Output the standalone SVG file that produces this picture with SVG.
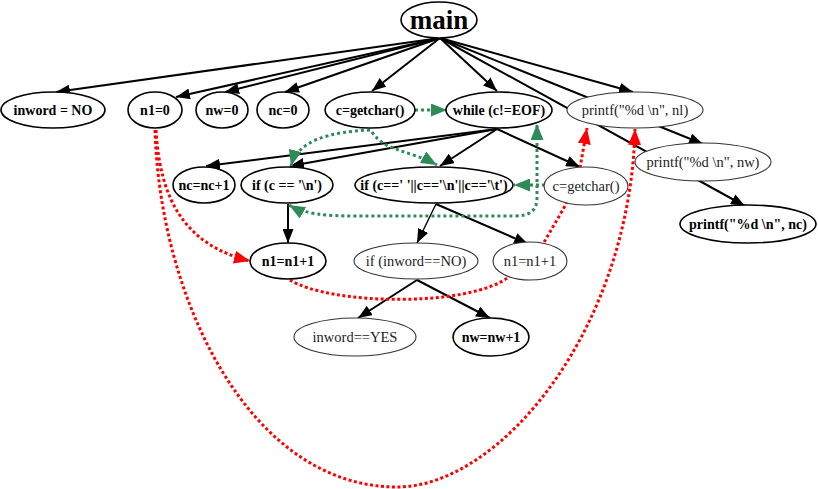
<svg xmlns="http://www.w3.org/2000/svg" width="818" height="489" viewBox="0 0 818 489">
<style>
.e{fill:none;stroke:#000;stroke-width:2}
.thin{fill:none;stroke:#000;stroke-width:1.4}
.red{fill:none;stroke:#f00;stroke-width:3;stroke-dasharray:3 2.5}
.grn{fill:none;stroke:#2e8b57;stroke-width:3;stroke-dasharray:3 3}
.nb ellipse{fill:#fff;stroke:#000;stroke-width:1.6}
.nr ellipse{fill:#fff;stroke:#333;stroke-width:1.1}
.nb text{font-family:"Liberation Serif",serif;font-size:14px;font-weight:bold;fill:#000;text-anchor:middle}
.nr text{font-family:"Liberation Serif",serif;font-size:14.5px;fill:#222;text-anchor:middle}
</style>
<defs>
<marker id="ab" markerUnits="userSpaceOnUse" viewBox="0 0 14 11" markerWidth="14" markerHeight="11" refX="14" refY="5.5" orient="auto"><path d="M0,0 L14,5.5 L0,11 z" fill="#000"/></marker>
<marker id="ar" markerUnits="userSpaceOnUse" viewBox="0 0 16 13" markerWidth="16" markerHeight="13" refX="16" refY="6.5" orient="auto"><path d="M0,0 L16,6.5 L0,13 z" fill="#f00"/></marker>
<marker id="ag" markerUnits="userSpaceOnUse" viewBox="0 0 16 13" markerWidth="16" markerHeight="13" refX="16" refY="6.5" orient="auto-start-reverse"><path d="M0,0 L16,6.5 L0,13 z" fill="#2e8b57"/></marker>
</defs>
<rect width="818" height="489" fill="#fff"/>
<g id="connectors">
<path class="e" d="M440,38 L56,92" marker-end="url(#ab)"/>
<path class="e" d="M440,38 L176,97" marker-end="url(#ab)"/>
<path class="e" d="M440,38 L225,92" marker-end="url(#ab)"/>
<path class="e" d="M440,38 L285,92" marker-end="url(#ab)"/>
<path class="e" d="M440,38 L372,91" marker-end="url(#ab)"/>
<path class="e" d="M440,38 L497,91" marker-end="url(#ab)"/>
<path class="e" d="M440,38 L633,92" marker-end="url(#ab)"/>
<path class="e" d="M440,38 L703,144" marker-end="url(#ab)"/>
<path class="e" d="M440,38 L745,206" marker-end="url(#ab)"/>
<path class="e" d="M497,129 L206,166" marker-end="url(#ab)"/>
<path class="e" d="M497,129 L290,166" marker-end="url(#ab)"/>
<path class="e" d="M497,129 L440,166" marker-end="url(#ab)"/>
<path class="e" d="M497,129 L580,167" marker-end="url(#ab)"/>
<path class="e" d="M288,204 L288,243" marker-end="url(#ab)"/>
<path class="thin" d="M436,204 L417,243" marker-end="url(#ab)"/>
<path class="e" d="M436,204 L528,244" marker-end="url(#ab)"/>
<path class="e" d="M417,280 L358,318" marker-end="url(#ab)"/>
<path class="e" d="M417,280 L490,318" marker-end="url(#ab)"/>
<path class="red" d="M156,130 C160,200 185,245 250,261" marker-end="url(#ar)"/>
<path class="red" d="M155,130 C160,300 250,487 397,487 C500,487 630,330 635,129" marker-end="url(#ar)"/>
<path class="red" d="M290,280 C330,305 470,308 510,276 L543,244 L565,206 L580,168 L587,128" marker-end="url(#ar)"/>
<path class="grn" d="M415,110 L447,110" marker-end="url(#ag)"/>
<path class="grn" d="M370,130 C330,132 298,140 291,166" marker-end="url(#ag)"/>
<path class="grn" d="M372,132 C385,152 410,150 437,165" marker-end="url(#ag)"/>
<path class="grn" d="M545,185 L514,185" marker-end="url(#ag)"/>
<path class="grn" d="M289,205 C305,214 325,216 355,216 L515,216 C530,216 537,210 537,198 L537,124" marker-start="url(#ag)" marker-end="url(#ag)"/>
</g>
<g id="main" class="nb"><ellipse cx="439" cy="20" rx="38" ry="18"/><text x="439" y="29" style="font-size:27px">main</text></g>
<g id="inword_no" class="nb"><ellipse cx="53" cy="110" rx="52" ry="18"/><text x="53" y="115">inword = NO</text></g>
<g id="n1_0" class="nb"><ellipse cx="155" cy="110" rx="27" ry="18"/><text x="155" y="115">n1=0</text></g>
<g id="nw_0" class="nb"><ellipse cx="222" cy="110" rx="26" ry="18"/><text x="222" y="115">nw=0</text></g>
<g id="nc_0" class="nb"><ellipse cx="283" cy="110" rx="26" ry="18"/><text x="283" y="115">nc=0</text></g>
<g id="getchar1" class="nb"><ellipse cx="370" cy="110" rx="45" ry="18"/><text x="370" y="115">c=getchar()</text></g>
<g id="while" class="nb"><ellipse cx="499" cy="110" rx="53" ry="18"/><text x="499" y="115">while (c!=EOF)</text></g>
<g id="printf_nl" class="nr"><ellipse cx="635" cy="110" rx="68" ry="18"/><text x="635" y="115">printf("%d \n", nl)</text></g>
<g id="nc_inc" class="nb"><ellipse cx="204" cy="185" rx="31" ry="18"/><text x="204" y="190">nc=nc+1</text></g>
<g id="if_nl" class="nb"><ellipse cx="287" cy="185" rx="46" ry="18"/><text x="287" y="190">if (c == '\n')</text></g>
<g id="if_ws" class="nb"><ellipse cx="434" cy="185" rx="79" ry="18"/><text x="434" y="190">if (c==' '||c=='\n'||c=='\t')</text></g>
<g id="getchar2" class="nr"><ellipse cx="586" cy="186" rx="42" ry="19"/><text x="586" y="191">c=getchar()</text></g>
<g id="printf_nw" class="nr"><ellipse cx="703" cy="162" rx="68" ry="19"/><text x="703" y="167">printf("%d \n", nw)</text></g>
<g id="printf_nc" class="nb"><ellipse cx="748" cy="224" rx="68" ry="19"/><text x="748" y="229">printf("%d \n", nc)</text></g>
<g id="n1_inc_a" class="nb"><ellipse cx="288" cy="261" rx="38" ry="18"/><text x="288" y="266">n1=n1+1</text></g>
<g id="if_inword" class="nr"><ellipse cx="416" cy="261" rx="62" ry="18"/><text x="416" y="266">if (inword==NO)</text></g>
<g id="n1_inc_b" class="nr"><ellipse cx="530" cy="261" rx="37" ry="19"/><text x="530" y="266">n1=n1+1</text></g>
<g id="inword_yes" class="nr"><ellipse cx="355" cy="337" rx="61" ry="19"/><text x="355" y="342">inword==YES</text></g>
<g id="nw_inc" class="nb"><ellipse cx="491" cy="337" rx="38" ry="19"/><text x="491" y="342">nw=nw+1</text></g>
</svg>
